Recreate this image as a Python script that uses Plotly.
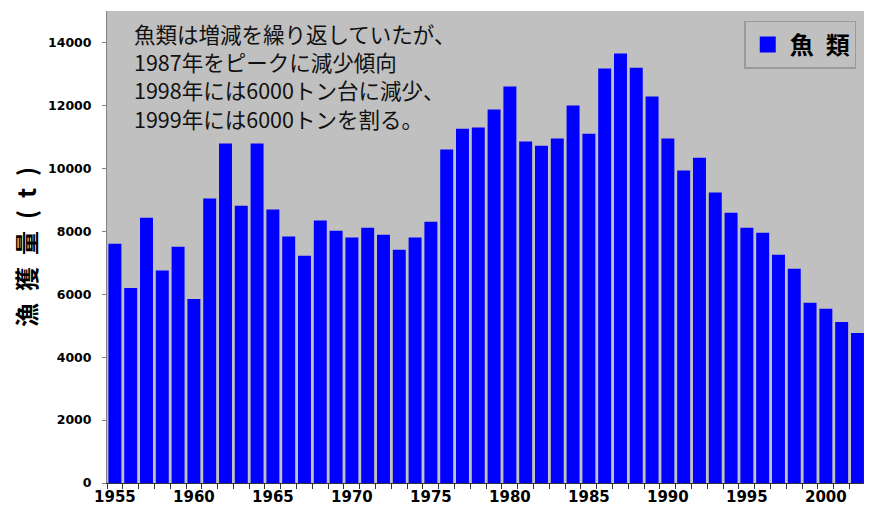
import plotly.graph_objects as go

years = list(range(1955, 2003))
catch = [7600, 6200, 8430, 6750, 7510, 5850, 9040, 10790, 8810, 10790,
         8690, 7830, 7220, 8340, 8020, 7800, 8110, 7890, 7410, 7800,
         8300, 10600, 11260, 11300, 11870, 12600, 10850, 10720, 10950, 12000,
         11100, 13170, 13650, 13200, 12280, 10950, 9930, 10340, 9230, 8590,
         8110, 7950, 7250, 6810, 5730, 5540, 5120, 4770]
series_name = "魚\u2002類"
y_title = "漁\u2002獲\u2002量\u2002(\u2002t\u2002)"
y_ticks = [0, 2000, 4000, 6000, 8000, 10000, 12000, 14000]
note_lines = ["魚類は増減を繰り返していたが、",
              "1987年をピークに減少傾向",
              "1998年には6000トン台に減少、",
              "1999年には6000トンを割る。"]

cats = [str(y) for y in years]
ticktext = [str(y) if y % 5 == 0 else "" for y in years]

fig = go.Figure()
fig.add_trace(go.Bar(x=cats, y=catch, name=series_name, marker_color="#0000FF",
                     marker_line_width=0, showlegend=False))
# legend entry for the bar series
fig.add_trace(go.Scatter(x=[None], y=[None], mode="markers", name=series_name,
                         marker=dict(symbol="square", size=16, color="#0000FF",
                                     line=dict(width=0))))

fig.update_layout(
    width=864, height=505,
    margin=dict(l=99, r=0, t=3, b=30),
    plot_bgcolor="#C0C0C0", paper_bgcolor="white",
    bargap=0.18,
    showlegend=True,
    legend=dict(x=0.833, y=0.979, xanchor="left", yanchor="top",
                bgcolor="#C0C0C0", bordercolor="#9A9A9A", borderwidth=1.5,
                font=dict(family="Noto Sans CJK JP", size=24, color="black", weight="bold"),
                itemsizing="trace", itemwidth=34, tracegroupgap=0),
    xaxis=dict(type="category", range=[-0.5, 47.92], tickmode="array",
               tickvals=cats, ticktext=ticktext, tickson="boundaries",
               ticks="outside", ticklen=5, tickcolor="#333", tickwidth=1,
               showline=True, linecolor="#333", linewidth=1,
               showgrid=False, tickangle=0, automargin=False,
               tickfont=dict(family="DejaVu Sans", size=15, color="black", weight="bold")),
    yaxis=dict(range=[0, 15000], tickvals=y_ticks, tickformat="d", ticks="outside", ticklen=4,
               tickcolor="#808080", showline=True, linecolor="#808080", linewidth=1,
               showgrid=False, zeroline=False, ticklabelstandoff=8, automargin=False,
               tickfont=dict(family="DejaVu Sans", size=12.5, color="black", weight="bold"),
               title=dict(text=y_title, standoff=12,
                          font=dict(family="Noto Sans CJK JP", size=24, color="black", weight="bold"))),
)

line_y = [0.953, 0.893, 0.833, 0.773]
for txt, yy in zip(note_lines, line_y):
    fig.add_annotation(text=txt, xref="paper", yref="paper", x=0.033, y=yy,
                       xanchor="left", yanchor="middle", align="left", showarrow=False,
                       font=dict(family="Noto Sans CJK JP", size=21.5, color="#111111"))

fig.write_html("out.html")
